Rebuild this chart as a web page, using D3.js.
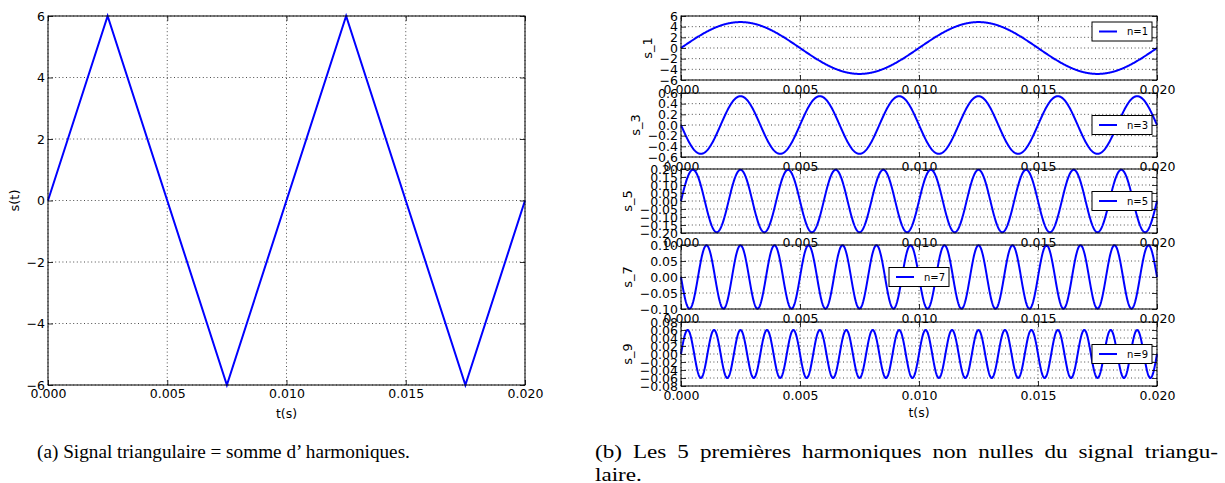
<!DOCTYPE html>
<html><head><meta charset="utf-8">
<script src="https://cdn.jsdelivr.net/npm/d3@7"></script>
<style>
body{margin:0;background:#fff}
svg{display:block}
text{font-family:"DejaVu Sans",sans-serif}
text.cap{font-family:"Liberation Serif","DejaVu Serif",serif}
</style>
</head><body>
<svg id="c" width="1225" height="483"></svg>
<script>
// ---------- data ----------
const triT = [0, 0.0025, 0.0075, 0.0125, 0.0175, 0.02];   // triangle vertices (s)
const triS = [0, 6, -6, 6, -6, 0];
const xTicks = [0, 0.005, 0.01, 0.015, 0.02];
const leftYTicks = [-6, -4, -2, 0, 2, 4, 6];

const harmonics = [1, 3, 5, 7, 9];
const amplitudes = [4.86, -0.54, 0.195, -0.099, 0.06];   // read from peaks
const fundamentalHz = 100;                                 // period 0.01 s
const yLimits = [6, 0.6, 0.2, 0.1, 0.08];
const yTicksList = [
  [-6, -4, -2, 0, 2, 4, 6],
  [-0.6, -0.4, -0.2, 0, 0.2, 0.4, 0.6],
  [-0.2, -0.15, -0.1, -0.05, 0, 0.05, 0.1, 0.15, 0.2],
  [-0.1, -0.05, 0, 0.05, 0.1],
  [-0.08, -0.06, -0.04, -0.02, 0, 0.02, 0.04, 0.06, 0.08]
];
const yTickFormats = ["d", ".1f", ".2f", ".2f", ".2f"];
const yLabels = ["s_1", "s_3", "s_5", "s_7", "s_9"];
const legendLabels = ["n=1", "n=3", "n=5", "n=7", "n=9"];
const legendLocs = ["upper right", "center right", "center right", "center", "center right"];
const captionA = "(a) Signal triangulaire = somme d’ harmoniques.";
const captionB1 = "(b) Les 5 premières harmoniques non nulles du signal triangu-";
const captionB2 = "laire.";

// ---------- layout ----------
const svg = d3.select("#c");
const BLUE = "#0000ff";
const FS = 12.5;

function drawGrid(g, x, y, yTicks) {
  const [x0, x1] = x.range();
  const [y0, y1] = y.range();
  const grid = g.append("g").attr("stroke", "#000").attr("stroke-width", 0.7)
    .attr("stroke-dasharray", "1,2.6");
  grid.selectAll(".gx").data(xTicks).join("line")
    .attr("x1", d => x(d)).attr("x2", d => x(d)).attr("y1", y0).attr("y2", y1);
  grid.selectAll(".gy").data(yTicks).join("line")
    .attr("y1", d => y(d)).attr("y2", d => y(d)).attr("x1", x0).attr("x2", x1);
}
function drawFrame(g, x, y, yTicks, yFmt, xPad) {
  const [x0, x1] = x.range();
  const [y0, y1] = y.range();
  const bottom = g.append("g").attr("transform", `translate(0,${y0})`)
    .call(d3.axisBottom(x).tickValues(xTicks).tickFormat(d3.format(".3f"))
      .tickSizeInner(-5).tickSizeOuter(0).tickPadding(xPad));
  const top = g.append("g").attr("transform", `translate(0,${y1})`)
    .call(d3.axisTop(x).tickValues(xTicks).tickFormat("").tickSizeInner(-5).tickSizeOuter(0));
  const left = g.append("g").attr("transform", `translate(${x0},0)`)
    .call(d3.axisLeft(y).tickValues(yTicks).tickFormat(d3.format(yFmt))
      .tickSizeInner(-5).tickSizeOuter(0).tickPadding(3));
  const right = g.append("g").attr("transform", `translate(${x1},0)`)
    .call(d3.axisRight(y).tickValues(yTicks).tickFormat("").tickSizeInner(-5).tickSizeOuter(0));
  [bottom, top, left, right].forEach(a => {
    a.select(".domain").remove();
    a.attr("font-family", null).attr("font-size", null);
    a.selectAll("text").attr("font-size", FS).attr("fill", "#000");
    a.selectAll("line").attr("stroke", "#000").attr("stroke-width", 0.8);
  });
  g.append("rect").attr("x", x0).attr("y", y1).attr("width", x1 - x0).attr("height", y0 - y1)
    .attr("fill", "none").attr("stroke", "#000").attr("stroke-width", 1);
  return left;
}
function yLabel(g, leftAxis, x0, text, cy) {
  let minX = 0;
  leftAxis.selectAll("text").each(function () {
    const b = this.getBBox();
    minX = Math.min(minX, b.x);
  });
  g.append("text").attr("transform", `translate(${x0 + minX - 8},${cy}) rotate(-90)`)
    .attr("text-anchor", "middle").attr("font-size", 13).text(text);
}

// ---------- (a) triangle ----------
{
  const g = svg.append("g");
  const x = d3.scaleLinear().domain([0, 0.02]).range([48, 525]);
  const y = d3.scaleLinear().domain([-6, 6]).range([385, 16]);
  drawGrid(g, x, y, leftYTicks);
  g.append("path").datum(triT.map((t, i) => [t, triS[i]]))
    .attr("fill", "none").attr("stroke", BLUE).attr("stroke-width", 2)
    .attr("d", d3.line().x(d => x(d[0])).y(d => y(d[1])));
  const la = drawFrame(g, x, y, leftYTicks, "d", 4.6);
  yLabel(g, la, 48, "s(t)", 200.5);
  g.append("text").attr("x", 286.5).attr("y", 417.5).attr("text-anchor", "middle")
    .attr("font-size", FS).text("t(s)");
}

// ---------- (b) harmonics ----------
{
  const tops = [16, 93, 169, 245, 322];
  const h = 64;
  const x = d3.scaleLinear().domain([0, 0.02]).range([681, 1157]);
  const N = 1200;
  harmonics.forEach((n, i) => {
    const g = svg.append("g");
    const lim = yLimits[i];
    const y = d3.scaleLinear().domain([-lim, lim]).range([tops[i] + h, tops[i]]);
    drawGrid(g, x, y, yTicksList[i]);
    const pts = d3.range(N + 1).map(k => {
      const t = 0.02 * k / N;
      return [t, amplitudes[i] * Math.sin(2 * Math.PI * n * fundamentalHz * t)];
    });
    g.append("path").datum(pts).attr("fill", "none").attr("stroke", BLUE)
      .attr("stroke-width", 2).attr("d", d3.line().x(d => x(d[0])).y(d => y(d[1])));
    const la = drawFrame(g, x, y, yTicksList[i], yTickFormats[i], 5);
    yLabel(g, la, 681, yLabels[i], tops[i] + h / 2);
    // legend
    const lw = 60, lh = 19;
    const loc = legendLocs[i];
    const lx = loc === "center" ? (681 + 1157) / 2 - lw / 2 : 1157 - 5 - lw;
    const ly = loc === "upper right" ? tops[i] + 6 : tops[i] + h / 2 - lh / 2;
    const lg = g.append("g").attr("transform", `translate(${lx},${ly})`);
    lg.append("rect").attr("width", lw).attr("height", lh).attr("fill", "#fff")
      .attr("stroke", "#000").attr("stroke-width", 1);
    lg.append("line").attr("x1", 7).attr("x2", 25).attr("y1", lh / 2).attr("y2", lh / 2)
      .attr("stroke", BLUE).attr("stroke-width", 2);
    lg.append("text").attr("x", 35).attr("y", lh / 2).attr("dy", "0.35em")
      .attr("font-size", 10).text(legendLabels[i]);
  });
  svg.append("text").attr("x", 919).attr("y", 416.5).attr("text-anchor", "middle")
    .attr("font-size", FS).text("t(s)");
}

// ---------- captions ----------
const capFS = 19.5;
function measure(str) {
  const t = svg.append("text").attr("class", "cap").attr("font-size", capFS).text(str);
  const w = t.node().getComputedTextLength();
  t.remove();
  return w;
}
const wA = measure(captionA);
const sxA = 373 / wA;
svg.append("text").attr("class", "cap").attr("font-size", capFS)
  .attr("transform", `translate(37,457.5) scale(${sxA},1)`).text(captionA);
// justified line for (b)
const wordsB = captionB1.split(" ");
const natB = wordsB.map(w => measure(w));
const gapB = 11;
const sxB = (623 - gapB * (wordsB.length - 1)) / d3.sum(natB);
{
  let cx = 595;
  wordsB.forEach((w, i) => {
    svg.append("text").attr("class", "cap").attr("font-size", capFS)
      .attr("transform", `translate(${cx},458) scale(${sxB},1)`).text(w);
    cx += natB[i] * sxB + gapB;
  });
}
svg.append("text").attr("class", "cap").attr("font-size", capFS)
  .attr("transform", `translate(595,480.5) scale(${sxB},1)`).text(captionB2);
</script>
</body></html>
